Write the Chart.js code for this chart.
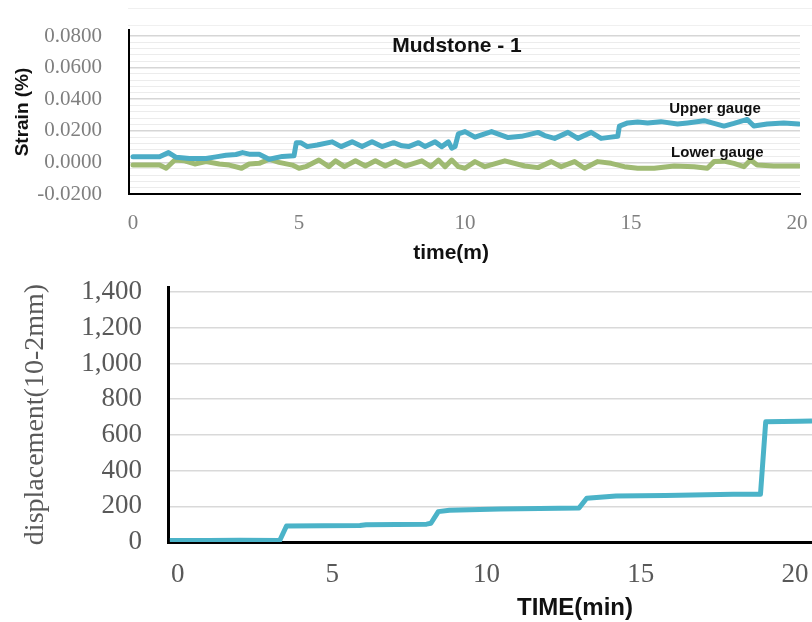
<!DOCTYPE html>
<html>
<head>
<meta charset="utf-8">
<script src="https://cdn.jsdelivr.net/npm/chart.js@4"></script>
<style>
  body { margin: 0; background: #fff; width: 812px; height: 622px; overflow: hidden; position: relative; }
  canvas { position: absolute; left: 0; }
  #strain { top: 0; }
  #disp { top: 270px; }
  .rule { position: absolute; left: 128px; right: 0; height: 1px; background: #f0f0f0; }
</style>
</head>
<body>
<div class="rule" style="top:8px"></div>
<div class="rule" style="top:25px"></div>
<canvas id="strain" width="812" height="270"></canvas>
<canvas id="disp" width="812" height="352"></canvas>
<script>
// --- data ---
const timeTicks = [0, 5, 10, 15, 20];

const strainTickLabels = ['-0.0200', '0.0000', '0.0200', '0.0400', '0.0600', '0.0800'];
const strainMinor = 0.004; // faint grid every 0.004, labelled every 0.02

const upperT = [0, 0.8, 1.07, 1.3, 1.7, 2.2, 2.5, 2.8, 3.1, 3.3, 3.5, 3.8, 4.1, 4.5, 4.85, 4.92, 5.05, 5.25, 5.55, 6.0,
  6.27, 6.6, 6.9, 7.2, 7.5, 7.85, 8.1, 8.3, 8.6, 8.8, 9.1, 9.3, 9.5, 9.6, 9.7, 9.8, 10.0, 10.3, 10.8, 11.3,
  11.7, 12.2, 12.4, 12.7, 13.1, 13.4, 13.8, 14.1, 14.4, 14.6, 14.65, 14.9, 15.2, 15.5, 15.9, 16.4, 16.7, 17.2, 17.5, 17.8,
  18.1, 18.5, 18.7, 19.1, 19.6, 20.05];
const upperV = [0.0036, 0.0036, 0.0062, 0.0032, 0.0025, 0.0025, 0.0035, 0.0045, 0.005, 0.0062, 0.0052, 0.0052, 0.002, 0.0038, 0.0042, 0.0125, 0.0125, 0.010, 0.011, 0.013,
  0.010, 0.013, 0.010, 0.013, 0.010, 0.0125, 0.0105, 0.010, 0.0125, 0.010, 0.013, 0.010, 0.013, 0.009, 0.010, 0.018, 0.0195, 0.016, 0.0195, 0.0157,
  0.0165, 0.019, 0.017, 0.0152, 0.019, 0.0152, 0.019, 0.0152, 0.016, 0.0165, 0.023, 0.025, 0.0255, 0.025, 0.0258, 0.0243, 0.025, 0.0264, 0.0247, 0.023,
  0.0247, 0.0272, 0.023, 0.0243, 0.025, 0.0243];

const lowerT = [0, 0.8, 1.0, 1.26, 1.56, 1.86, 2.2, 2.6, 2.9, 3.27, 3.5, 3.8, 4.1, 4.4, 4.8, 5.0, 5.2, 5.6, 5.9, 6.1,
  6.37, 6.7, 7.0, 7.3, 7.6, 7.9, 8.2, 8.7, 8.97, 9.2, 9.4, 9.6, 9.8, 10.0, 10.3, 10.6, 11.2, 11.8, 12.2, 12.6,
  12.9, 13.3, 13.6, 14.0, 14.4, 14.8, 15.2, 15.7, 16.3, 16.9, 17.3, 17.5, 17.8, 18.1, 18.4, 18.6, 18.8, 19.3, 20.05];
const lowerV = [-0.0017, -0.0017, -0.0037, 0.0015, 0.001, -0.001, 0.0005, -0.001, -0.0017, -0.0037, -0.001, -0.0006, 0.002, 0.0, -0.0017, -0.0037, -0.0027, 0.0015, -0.0027, 0.001,
  -0.0027, 0.001, -0.0023, 0.001, -0.0023, 0.0008, -0.0023, 0.001, -0.0027, 0.0015, -0.0027, 0.0015, -0.0027, -0.0037, 0.0005, -0.0027, 0.001, -0.0023, -0.0033, 0.0005,
  -0.0027, 0.0005, -0.0037, 0.0005, -0.0006, -0.0027, -0.0037, -0.0037, -0.0023, -0.0027, -0.0037, 0.0005, 0.0008, -0.0006, -0.0027, 0.0015, -0.0017, -0.0023, -0.0023];

const dispTickValues = [0, 200, 400, 600, 800, 1000, 1200, 1400];
const dispTickLabels = ['0', '200', '400', '600', '800', '1,000', '1,200', '1,400'];
const dispT = [-0.26, 1.0, 2.0, 3.3, 3.52, 5.9, 6.1, 8.06, 8.2, 8.44, 8.8, 10.44, 13.0, 13.25, 14.2, 15.8, 18.0, 18.88, 19.05, 20.16, 20.55];
const dispV = [8, 8, 10, 8, 90, 92, 97, 100, 105, 170, 178, 185, 190, 245, 258, 260, 267, 267, 673, 676, 678];

const pts = (xs, ys) => xs.map((x, i) => ({ x, y: ys[i] }));

// scales keep their fixed size and don't push the plot area for label overhang
const fixSize = (w, h) => s => {
  if (w) s.width = w;
  if (h) s.height = h;
  s.paddingTop = s.paddingBottom = s.paddingLeft = s.paddingRight = 0;
};

// text drawn in data space (titles / annotations)
const notes = {
  id: 'notes',
  afterDraw(chart, args, opts) {
    const { ctx, chartArea } = chart;
    const x = chart.scales.x, y = chart.scales.y;
    (opts.items || []).forEach(it => {
      ctx.save();
      ctx.font = it.font;
      ctx.fillStyle = it.color || '#000';
      ctx.textAlign = 'center';
      ctx.textBaseline = 'middle';
      const px = x.getPixelForValue(it.x);
      const py = it.y !== undefined ? y.getPixelForValue(it.y) : chartArea.bottom + it.dy;
      ctx.fillText(it.text, px, py);
      ctx.restore();
    });
  }
};

const SERIF = "'Liberation Serif', 'Times New Roman', serif";
const SANS = "'Liberation Sans', Arial, sans-serif";

// ---------- Mudstone - 1 strain ----------
new Chart(document.getElementById('strain'), {
  type: 'line',
  data: {
    datasets: [
      { data: pts(upperT, upperV), borderColor: '#4bacc6', borderWidth: 5, pointRadius: 0, tension: 0,
        borderJoinStyle: 'round', borderCapStyle: 'round' },
      { data: pts(lowerT, lowerV), borderColor: '#9fba72', borderWidth: 5, pointRadius: 0, tension: 0,
        borderJoinStyle: 'round', borderCapStyle: 'round' }
    ]
  },
  options: {
    responsive: false,
    animation: false,
    devicePixelRatio: 1,
    layout: { padding: { top: 30, right: 12, left: 0, bottom: 0 } },
    plugins: {
      legend: { display: false },
      tooltip: { enabled: false },
      notes: {
        items: [
          { text: 'Mudstone - 1', x: 9.76, y: 0.0737, font: 'bold 21px ' + SANS, color: '#111' },
          { text: 'Upper gauge', x: 17.53, y: 0.0338, font: 'bold 15px ' + SANS, color: '#111' },
          { text: 'Lower gauge', x: 17.6, y: 0.0059, font: 'bold 15px ' + SANS, color: '#111' },
          { text: 'time(m)', x: 9.58, dy: 59, font: 'bold 21px ' + SANS, color: '#111' }
        ]
      }
    },
    scales: {
      x: {
        type: 'linear', min: -0.12, max: 20.09,
        afterBuildTicks: s => { s.ticks = timeTicks.map(v => ({ value: v })); },
        afterFit: fixSize(0, 76),
        grid: { display: false },
        border: { color: '#000', width: 2 },
        ticks: { autoSkip: false, maxRotation: 0, padding: 9, color: '#7f7f7f', font: { family: SERIF, size: 21 } }
      },
      y: {
        min: -0.02, max: 0.0838,
        afterBuildTicks: s => {
          const t = [];
          for (let i = 0; i * strainMinor <= 0.1 + 1e-9; i++) t.push({ value: -0.02 + i * strainMinor });
          s.ticks = t;
        },
        afterFit: fixSize(129, 0),
        grid: {
          drawTicks: false,
          color: c => (c.index % 5 === 0 ? '#d6d6d6' : '#ececec'),
          lineWidth: c => (c.index % 5 === 0 ? 1.5 : 1)
        },
        border: { color: '#000', width: 2 },
        ticks: {
          autoSkip: false, padding: 27, color: '#7f7f7f', font: { family: SERIF, size: 21 },
          callback: (v, i) => (i % 5 === 0 ? strainTickLabels[i / 5] : '')
        },
        title: { display: true, text: 'Strain (%)', color: '#111', padding: { top: 11 },
          font: { family: SANS, size: 19, weight: 'bold' } }
      }
    }
  },
  plugins: [notes]
});

// ---------- displacement ----------
new Chart(document.getElementById('disp'), {
  type: 'line',
  data: {
    datasets: [
      { data: pts(dispT, dispV), borderColor: '#4bb3c8', borderWidth: 5, pointRadius: 0, tension: 0,
        borderJoinStyle: 'round', borderCapStyle: 'butt' }
    ]
  },
  options: {
    responsive: false,
    animation: false,
    devicePixelRatio: 1,
    layout: { padding: { top: 17, right: 0, left: 0, bottom: 0 } },
    plugins: {
      legend: { display: false },
      tooltip: { enabled: false },
      notes: {
        items: [
          { text: 'TIME(min)', x: 12.87, dy: 66, font: 'bold 24px ' + SANS, color: '#111' }
        ]
      }
    },
    scales: {
      x: {
        type: 'linear', min: -0.32, max: 20.55,
        afterBuildTicks: s => { s.ticks = timeTicks.map(v => ({ value: v })); },
        afterFit: fixSize(0, 80),
        grid: { display: false },
        border: { color: '#000', width: 3 },
        ticks: { autoSkip: false, maxRotation: 0, padding: 9, color: '#595959', font: { family: SERIF, size: 27 } }
      },
      y: {
        min: 0, max: 1428,
        afterBuildTicks: s => { s.ticks = dispTickValues.map(v => ({ value: v })); },
        afterFit: fixSize(168, 0),
        grid: { drawTicks: false, color: '#d9d9d9', lineWidth: 1.5 },
        border: { color: '#000', width: 3 },
        ticks: {
          autoSkip: false, padding: 26, color: '#595959', font: { family: SERIF, size: 27 },
          callback: (v, i) => dispTickLabels[i]
        },
        title: { display: true, text: 'displacement(10-2mm)', color: '#595959', padding: { top: 19 },
          font: { family: SERIF, size: 28 } }
      }
    }
  },
  plugins: [notes]
});
</script>
</body>
</html>
